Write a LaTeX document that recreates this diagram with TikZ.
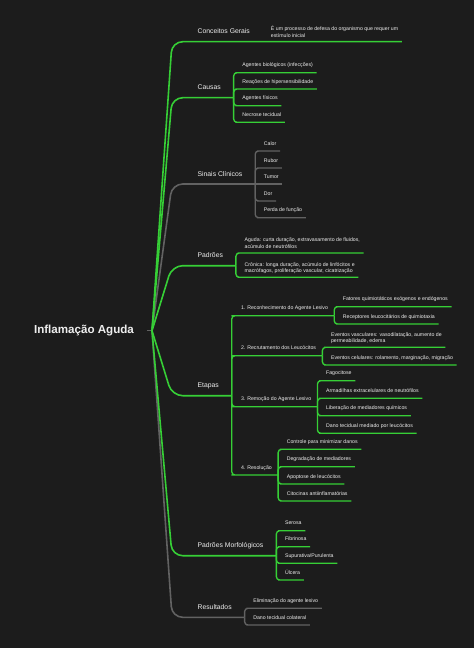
\documentclass[tikz,border=0pt]{standalone}
\usepackage{fontspec}
\setmainfont{Liberation Sans}
\definecolor{mapbg}{HTML}{1C1C1C}
\definecolor{mapgreen}{HTML}{36CF36}
\definecolor{mapgray}{HTML}{626262}
\definecolor{maptext}{HTML}{EEEEEE}

\tikzset{
    rootnode/.style={text=maptext, font=\fontsize{8.7}{10}\selectfont\bfseries, inner xsep=9.5pt, inner ysep=2pt},
    topic/.style={anchor=south west, text=maptext, font=\fontsize{5.1}{6}\selectfont, inner xsep=9.5pt, inner ysep=3.2pt, text depth=0.25em},
    leafbase/.style={anchor=south west, text=maptext, font=\fontsize{3.9}{5}\selectfont, inner xsep=2.6pt, inner ysep=1.7pt},
    leaf/.style={leafbase, text depth=0.25em},
    leaftwo/.style={leafbase, align=left, text depth=0.25em, inner ysep=0.6pt},
    midnode/.style={leaf, inner xsep=4.5pt},
    trunk/.style={line width=1.2pt, rounded corners=8pt},
    twig/.style={line width=1pt, rounded corners=2.5pt}
}

\begin{document}
\begin{tikzpicture}[x=0.75pt, y=-0.75pt]
    \fill[mapbg] (0,0) rectangle (474,648);
    \useasboundingbox (0,0) rectangle (474,648);

    % root
    \node[rootnode] (root) at (84,330.7) {Inflamação Aguda};
    \coordinate (hub) at (152,330.7);

    % main topics
    \node[topic] (cg) at (184.7,41.7) {Conceitos Gerais};
    \node[topic] (causas) at (184.7,97.7) {Causas};
    \node[topic] (sinais) at (184.7,184) {Sinais Clínicos};
    \node[topic] (padroes) at (184.7,265.7) {Padrões};
    \node[topic] (etapas) at (184.7,395.7) {Etapas};
    \node[topic] (morf) at (184.7,555.7) {Padrões Morfológicos};
    \node[topic] (result) at (184.7,617.3) {Resultados};

    % conceitos
    \node[leaftwo, xshift=3.4pt] (cg1) at (cg.south east) {É um processo de defesa do organismo que requer um\\estímulo inicial};

    % causas
    \node[leaf, xshift=3.75pt] (ca1) at (causas.south east |- 0,72.7) {Agentes biológicos (infecções)};
    \node[leaf, xshift=3.75pt] (ca2) at (causas.south east |- 0,89) {Reações de hipersensibilidade};
    \node[leaf, xshift=3.75pt] (ca3) at (causas.south east |- 0,105.7) {Agentes físicos};
    \node[leaf, xshift=3.75pt] (ca4) at (causas.south east |- 0,122.3) {Necrose tecidual};

    % sinais
    \node[leaf, xshift=3.75pt] (si1) at (sinais.south east |- 0,151) {Calor};
    \node[leaf, xshift=3.75pt] (si2) at (sinais.south east |- 0,168) {Rubor};
    \node[leaf, xshift=3.75pt] (si3) at (sinais.south east) {Tumor};
    \node[leaf, xshift=3.75pt] (si4) at (sinais.south east |- 0,201) {Dor};
    \node[leaf, xshift=3.75pt] (si5) at (sinais.south east |- 0,217.7) {Perda de função};

    % padroes
    \node[leaftwo, xshift=3.75pt] (pa1) at (padroes.south east |- 0,253) {Aguda: curta duração, extravasamento de fluidos,\\acúmulo de neutrófilos};
    \node[leaftwo, xshift=3.75pt] (pa2) at (padroes.south east |- 0,277.3) {Crônica: longa duração, acúmulo de linfócitos e\\macrófagos, proliferação vascular, cicatrização};

    % etapas
    \node[midnode, xshift=2.25pt] (et1) at (etapas.south east |- 0,315.7) {1. Reconhecimento do Agente Lesivo};
    \node[midnode, xshift=2.25pt] (et2) at (etapas.south east |- 0,355.7) {2. Recrutamento dos Leucócitos};
    \node[midnode, xshift=2.25pt] (et3) at (etapas.south east |- 0,406.7) {3. Remoção do Agente Lesivo};
    \node[midnode, xshift=2.25pt] (et4) at (etapas.south east |- 0,475) {4. Resolução};

    \node[leaf, xshift=3.75pt] (re1) at (et1.south east |- 0,306.7) {Fatores quimiotáticos exógenos e endógenos};
    \node[leaf, xshift=3.75pt] (re2) at (et1.south east |- 0,324) {Receptores leucocitários de quimiotaxia};

    \node[leaftwo, xshift=3.75pt] (rc1) at (et2.south east |- 0,347.3) {Eventos vasculares: vasodilatação, aumento de\\permeabilidade, edema};
    \node[leaf, xshift=3.75pt] (rc2) at (et2.south east |- 0,365) {Eventos celulares: rolamento, marginação, migração};

    \node[leaf, xshift=3.75pt] (rm1) at (et3.south east |- 0,380.7) {Fagocitose};
    \node[leaf, xshift=3.75pt] (rm2) at (et3.south east |- 0,398.3) {Armadilhas extracelulares de neutrófilos};
    \node[leaf, xshift=3.75pt] (rm3) at (et3.south east |- 0,415.7) {Liberação de mediadores químicos};
    \node[leaf, xshift=3.75pt] (rm4) at (et3.south east |- 0,433.3) {Dano tecidual mediado por leucócitos};

    \node[leaf, xshift=3.75pt] (rs1) at (et4.south east |- 0,449.3) {Controle para minimizar danos};
    \node[leaf, xshift=3.75pt] (rs2) at (et4.south east |- 0,466.7) {Degradação de mediadores};
    \node[leaf, xshift=3.75pt] (rs3) at (et4.south east |- 0,484) {Apoptose de leucócitos};
    \node[leaf, xshift=3.75pt] (rs4) at (et4.south east |- 0,501) {Citocinas antiinflamatórias};

    % padroes morfologicos
    \node[leaf, xshift=3.75pt] (pm1) at (morf.south east |- 0,530.7) {Serosa};
    \node[leaf, xshift=3.75pt] (pm2) at (morf.south east |- 0,546.7) {Fibrinosa};
    \node[leaf, xshift=3.75pt] (pm3) at (morf.south east |- 0,563.3) {Supurativa/Purulenta};
    \node[leaf, xshift=3.75pt] (pm4) at (morf.south east |- 0,580) {Úlcera};

    % resultados
    \node[leaf, xshift=3.75pt] (rr1) at (result.south east |- 0,608.3) {Eliminação do agente lesivo};
    \node[leaf, xshift=3.75pt] (rr2) at (result.south east |- 0,625) {Dano tecidual colateral};

    % trunk lines
    \draw[mapgray, line width=1.1pt] (root.east) -- (hub);
    \draw[trunk, mapgray] (hub) -- ([xshift=-9.5pt]sinais.south west) -- (sinais.south east);
    \draw[trunk, mapgray] (hub) -- ([xshift=-9.5pt]result.south west) -- (result.south east);
    \draw[trunk, mapgreen] (hub) -- ([xshift=-9.5pt]cg.south west) -- (cg1.south east);
    \draw[trunk, mapgreen] (hub) -- ([xshift=-9.5pt]causas.south west) -- (causas.south east);
    \draw[trunk, mapgreen] (hub) -- ([xshift=-9.5pt]padroes.south west) -- (padroes.south east);
    \draw[trunk, mapgreen] (hub) -- ([xshift=-9.5pt]etapas.south west) -- (etapas.south east);
    \draw[trunk, mapgreen] (hub) -- ([xshift=-9.5pt]morf.south west) -- (morf.south east);

    % twigs
    \draw[twig, mapgreen] (causas.south east) |- (ca1.south west) -- (ca1.south east);
    \draw[twig, mapgreen] (causas.south east) |- (ca2.south west) -- (ca2.south east);
    \draw[twig, mapgreen] (causas.south east) |- (ca3.south west) -- (ca3.south east);
    \draw[twig, mapgreen] (causas.south east) |- (ca4.south west) -- (ca4.south east);

    \draw[twig, mapgray] (sinais.south east) |- (si1.south west) -- (si1.south east);
    \draw[twig, mapgray] (sinais.south east) |- (si2.south west) -- (si2.south east);
    \draw[twig, mapgray] (sinais.south east) -- (si3.south east);
    \draw[twig, mapgray] (sinais.south east) |- (si4.south west) -- (si4.south east);
    \draw[twig, mapgray] (sinais.south east) |- (si5.south west) -- (si5.south east);

    \draw[twig, mapgreen] (padroes.south east) |- (pa1.south west) -- (pa1.south east);
    \draw[twig, mapgreen] (padroes.south east) |- (pa2.south west) -- (pa2.south east);

    \draw[twig, mapgreen] (etapas.south east) |- (et1.south west) -- (et1.south east);
    \draw[twig, mapgreen] (etapas.south east) |- (et2.south west) -- (et2.south east);
    \draw[twig, mapgreen] (etapas.south east) |- (et3.south west) -- (et3.south east);
    \draw[twig, mapgreen] (etapas.south east) |- (et4.south west) -- (et4.south east);

    \draw[twig, mapgreen] (et1.south east) |- (re1.south west) -- (re1.south east);
    \draw[twig, mapgreen] (et1.south east) |- (re2.south west) -- (re2.south east);
    \draw[twig, mapgreen] (et2.south east) |- (rc1.south west) -- (rc1.south east);
    \draw[twig, mapgreen] (et2.south east) |- (rc2.south west) -- (rc2.south east);
    \draw[twig, mapgreen] (et3.south east) |- (rm1.south west) -- (rm1.south east);
    \draw[twig, mapgreen] (et3.south east) |- (rm2.south west) -- (rm2.south east);
    \draw[twig, mapgreen] (et3.south east) |- (rm3.south west) -- (rm3.south east);
    \draw[twig, mapgreen] (et3.south east) |- (rm4.south west) -- (rm4.south east);
    \draw[twig, mapgreen] (et4.south east) |- (rs1.south west) -- (rs1.south east);
    \draw[twig, mapgreen] (et4.south east) |- (rs2.south west) -- (rs2.south east);
    \draw[twig, mapgreen] (et4.south east) |- (rs3.south west) -- (rs3.south east);
    \draw[twig, mapgreen] (et4.south east) |- (rs4.south west) -- (rs4.south east);

    \draw[twig, mapgreen] (morf.south east) |- (pm1.south west) -- (pm1.south east);
    \draw[twig, mapgreen] (morf.south east) |- (pm2.south west) -- (pm2.south east);
    \draw[twig, mapgreen] (morf.south east) |- (pm3.south west) -- (pm3.south east);
    \draw[twig, mapgreen] (morf.south east) |- (pm4.south west) -- (pm4.south east);

    \draw[twig, mapgray] (result.south east) |- (rr1.south west) -- (rr1.south east);
    \draw[twig, mapgray] (result.south east) |- (rr2.south west) -- (rr2.south east);
\end{tikzpicture}
\end{document}
